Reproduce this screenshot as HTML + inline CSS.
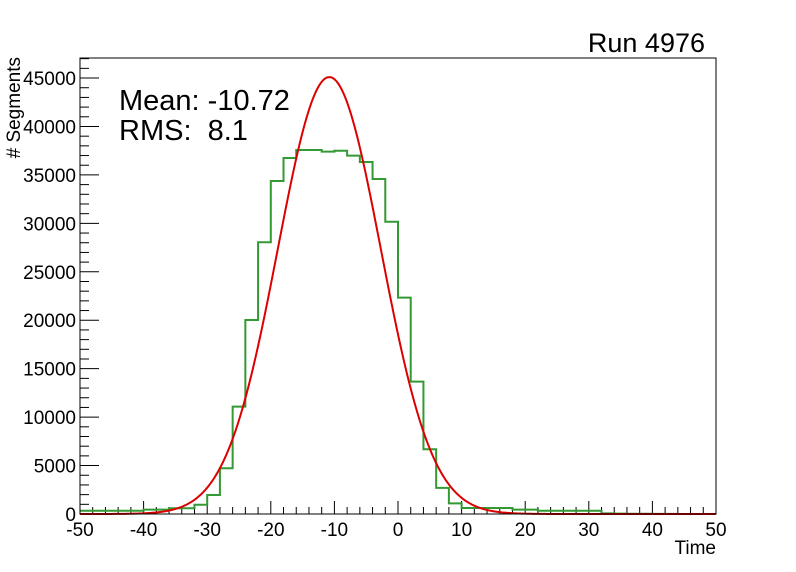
<!DOCTYPE html>
<html><head><meta charset="utf-8"><style>
html,body{margin:0;padding:0;background:#fff;}
svg{display:block;font-family:"Liberation Sans",sans-serif;}
</style></head><body>
<svg id="chart" width="796" height="572" viewBox="0 0 796 572" xmlns="http://www.w3.org/2000/svg">
<rect x="0" y="0" width="796" height="572" fill="#fff"/>
<g id="axes"></g>
<g id="marks"></g>
<rect x="80" y="58" width="636" height="456" fill="none" stroke="#000" stroke-width="1"/>
<text x="705" y="52" font-size="27" text-anchor="end">Run 4976</text>
<text x="119" y="110" font-size="29">Mean: -10.72</text>
<text x="119" y="140" font-size="29" xml:space="preserve">RMS:  8.1</text>
<text transform="translate(20,57) rotate(-90)" font-size="19" text-anchor="end"># Segments</text>
<text x="716" y="554" font-size="19" text-anchor="end">Time</text>
</svg>
<script>
// Histogram bin lower edges (Time) and counts, bin width 2
const binEdges = [-50,-48,-46,-44,-42,-40,-38,-36,-34,-32,-30,-28,-26,-24,-22,-20,-18,-16,-14,-12,-10,-8,-6,-4,-2,0,2,4,6,8,10,12,14,16,18,20,22,24,26,28,30,32,34,36,38,40,42,44,46,48];
const binCounts = [340,340,340,340,340,450,450,590,590,960,1960,4720,11080,20030,28050,34370,36750,37570,37570,37400,37500,36990,36340,34580,30170,22330,13660,6680,2700,1100,620,620,620,620,450,450,340,340,340,340,340,60,40,30,20,10,10,5,5,5];
// Gaussian fit parameters: [constant, mean, sigma]
const fitParams = [45100, -10.8, 8.1];
const xTicks = [-50,-40,-30,-20,-10,0,10,20,30,40,50];
const yTicks = [0,5000,10000,15000,20000,25000,30000,35000,40000,45000];

const X0=80, X1=716, Y0=514, PER5000=48.44;
const xs = v => X0 + (v + 50) / 100 * (X1 - X0);
const ys = v => Y0 - v / 5000 * PER5000;
const NS="http://www.w3.org/2000/svg";
const axes=document.getElementById('axes'), marks=document.getElementById('marks');
function mk(tag, attrs, parent){const e=document.createElementNS(NS,tag);for(const k in attrs)e.setAttribute(k,attrs[k]);parent.appendChild(e);return e;}

for(let v=-50; v<=50; v+=2){
  const major = (v%10===0);
  const t=mk('line',{x1:xs(v),x2:xs(v),y1:Y0,y2:Y0-(major?13:7),stroke:'#000','stroke-width':1},axes);
  
  
}
xTicks.forEach(v=>{
  const t=mk('text',{x:xs(v),y:Y0+22,'font-size':19,'text-anchor':'middle'},axes);
  t.textContent=String(v);
  
  
});
for(let v=0; v<=47000; v+=1000){
  const major=(v%5000===0);
  const t=mk('line',{x1:X0,x2:X0+(major?19:9),y1:ys(v),y2:ys(v),stroke:'#000','stroke-width':1},axes);
  
  
}
yTicks.forEach(v=>{
  const t=mk('text',{x:X0-4,y:ys(v)+7,'font-size':19,'text-anchor':'end'},axes);
  t.textContent=String(v);
  
  
});

let d='';
binEdges.forEach((e,i)=>{
  const yv=ys(binCounts[i]);
  d += (i===0?'M':'L')+xs(e)+','+yv+' L'+xs(e+2)+','+yv+' ';
});
const h=mk('path',{d:d,fill:'none',stroke:'#339933','stroke-width':2},marks);



let fd='';
for(let i=0;i<=500;i++){
  const x=-50+i*0.2;
  const y=fitParams[0]*Math.exp(-0.5*Math.pow((x-fitParams[1])/fitParams[2],2));
  fd += (i===0?'M':'L')+xs(x).toFixed(2)+','+ys(y).toFixed(2)+' ';
}
const f=mk('path',{d:fd,fill:'none',stroke:'#dd0000','stroke-width':2},marks);


</script>
</body></html>
